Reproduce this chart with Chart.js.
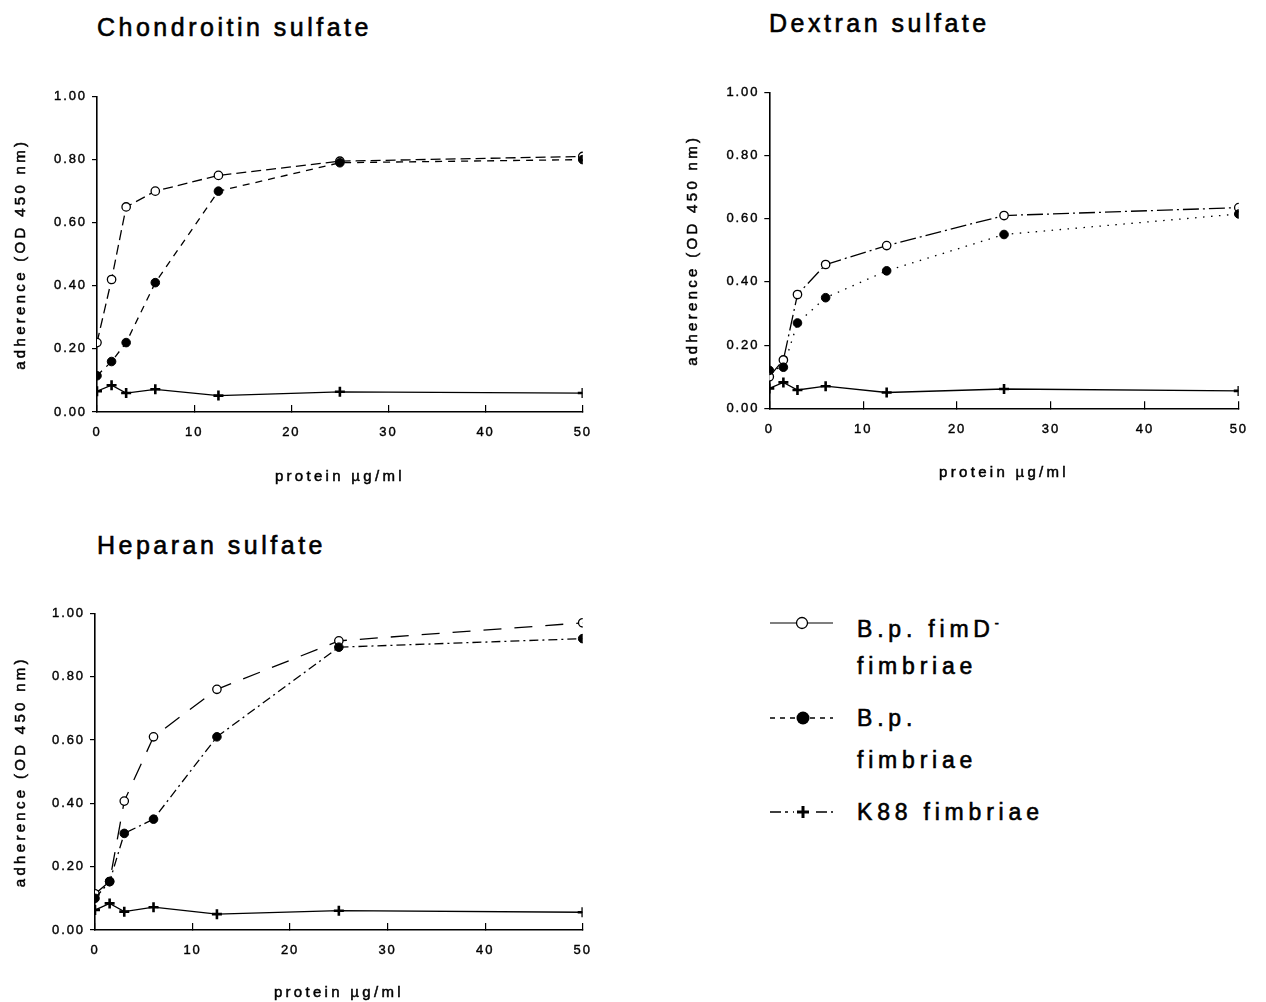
<!DOCTYPE html>
<html>
<head>
<meta charset="utf-8">
<script src="https://cdn.jsdelivr.net/npm/chart.js@4.4.1/dist/chart.umd.min.js"></script>
<style>
  body { margin: 0; background: #fff; width: 1266px; height: 1002px; position: relative; overflow: hidden; font-family: 'Liberation Sans', Arial, sans-serif; color: #000; }
  .box { position: absolute; }
  .title { position: absolute; font-size: 25px; line-height: 30px; letter-spacing: 3.5px; white-space: nowrap; -webkit-text-stroke: 0.6px #000; }
  .leg { position: absolute; left: 857px; font-size: 23px; line-height: 28px; letter-spacing: 4.8px; white-space: nowrap; -webkit-text-stroke: 0.6px #000; }
  .leg sup { font-size: 12px; vertical-align: 10px; letter-spacing: 0; }
</style>
</head>
<body>
<div class="title" style="left:97px; top:12px;">Chondroitin sulfate</div>
<div class="title" style="left:769px; top:8px;">Dextran sulfate</div>
<div class="title" style="left:97px; top:530px;">Heparan sulfate</div>

<div class="box" style="left:0px; top:60px;"><canvas id="chondChart" width="610" height="440"></canvas></div>
<div class="box" style="left:672px; top:56px;"><canvas id="dextChart" width="594" height="440"></canvas></div>
<div class="box" style="left:0px; top:577px;"><canvas id="hepChart" width="610" height="425"></canvas></div>

<svg class="box" style="left:760px; top:600px;" width="90" height="230">
  <line x1="10" y1="23" x2="73" y2="23" stroke="#000" stroke-width="1.2"/>
  <circle cx="42" cy="23" r="5.5" fill="#fff" stroke="#000" stroke-width="1.3"/>
  <line x1="10" y1="118" x2="73" y2="118" stroke="#000" stroke-width="1.3" stroke-dasharray="5,5"/>
  <circle cx="43" cy="118" r="6.5" fill="#000"/>
  <line x1="10" y1="212" x2="73" y2="212" stroke="#000" stroke-width="1.3" stroke-dasharray="11,4,3,5"/>
  <rect x="34" y="205" width="18" height="14" fill="#fff"/>
  <line x1="37" y1="212" x2="49" y2="212" stroke="#000" stroke-width="3"/>
  <line x1="43" y1="206" x2="43" y2="218" stroke="#000" stroke-width="3"/>
</svg>
<div class="leg" style="top:609px;">B.p. fimD<sup>-</sup></div>
<div class="leg" style="top:652px;">fimbriae</div>
<div class="leg" style="top:704px;">B.p.</div>
<div class="leg" style="top:746px;">fimbriae</div>
<div class="leg" style="top:798px;">K88 fimbriae</div>

<script>
// protein concentration (µg/ml)
const doses = [0, 1.5, 3, 6, 12.5, 25, 50];
const xTicks = [0, 10, 20, 30, 40, 50];
const yTicks = [0, 0.2, 0.4, 0.6, 0.8, 1.0];

// Chondroitin sulfate
const chondFimD = [0.22, 0.42, 0.65, 0.70, 0.75, 0.795, 0.81];
const chondBp = [0.115, 0.16, 0.22, 0.41, 0.70, 0.79, 0.80];
const chondK88 = [0.066, 0.085, 0.06, 0.072, 0.052, 0.064, 0.06];

// Dextran sulfate
const dextFimD = [0.10, 0.153, 0.36, 0.455, 0.515, 0.61, 0.635];
const dextBp = [0.12, 0.13, 0.27, 0.35, 0.435, 0.55, 0.615];
const dextK88 = [0.063, 0.082, 0.058, 0.07, 0.05, 0.061, 0.055];

// Heparan sulfate
const hepFimD = [0.114, 0.153, 0.407, 0.61, 0.76, 0.913, 0.97];
const hepBp = [0.10, 0.153, 0.305, 0.35, 0.61, 0.893, 0.92];
const hepK88 = [0.063, 0.084, 0.058, 0.072, 0.05, 0.061, 0.056];

const family = "'Liberation Sans', Arial, sans-serif";

// scanned figure has wide letter spacing and slightly heavy type
const spacing = {
    id: 'spacing',
    beforeDraw(chart) {
        chart.ctx.letterSpacing = '1.9px';
        Object.values(chart.scales).forEach(s => {
            if (s._spaced) return;
            const orig = s.drawTitle;
            s.drawTitle = function () {
                const c = this.ctx;
                const fill = c.fillText;
                c.letterSpacing = '3.3px';
                c.fillText = function (t, x, y, w) {
                    fill.call(c, t, x, y, w);
                    c.lineWidth = 0.5;
                    c.strokeStyle = '#000';
                    c.strokeText(t, x, y, w);
                };
                orig.call(this);
                delete c.fillText;
                c.letterSpacing = '1.9px';
            };
            s._spaced = true;
        });
    }
};

function pts(ys) {
    return doses.map((d, i) => ({x: d, y: ys[i]}));
}

function fimDSet(ys, dash) {
    return {
        label: 'B.p. fimD- fimbriae', data: pts(ys),
        borderColor: '#000', borderWidth: 1.3, borderDash: dash,
        pointStyle: 'circle', pointRadius: 4.2, pointBackgroundColor: '#fff',
        pointBorderColor: '#000', pointBorderWidth: 1.3
    };
}
function bpSet(ys, dash) {
    return {
        label: 'B.p. fimbriae', data: pts(ys),
        borderColor: '#000', borderWidth: 1.3, borderDash: dash,
        pointStyle: 'circle', pointRadius: 4.3, pointBackgroundColor: '#000',
        pointBorderColor: '#000', pointBorderWidth: 1
    };
}
function k88Set(ys) {
    return {
        label: 'K88 fimbriae', data: pts(ys),
        borderColor: '#000', borderWidth: 1.3,
        pointStyle: 'cross', pointRadius: 5, pointBorderColor: '#000',
        pointBorderWidth: 2.6
    };
}

const tickFont = {family: family, size: 13};

function makeChart(id, datasets, pad, yWidth, xHeight, xTitlePad) {
    return new Chart(document.getElementById(id).getContext('2d'), {
        type: 'line',
        data: {datasets: datasets},
        plugins: [spacing],
        options: {
            responsive: false,
            animation: false,
            devicePixelRatio: 1,
            layout: {padding: pad},
            elements: {line: {tension: 0}},
            plugins: {legend: {display: false}, tooltip: {enabled: false}},
            scales: {
                x: {
                    type: 'linear', min: 0, max: 50,
                    afterBuildTicks: (s) => { s.ticks = xTicks.map(v => ({value: v})); },
                    afterFit: (s) => { s.height = xHeight; },
                    ticks: {color: '#000', font: tickFont, padding: 20, maxRotation: 0,
                        textStrokeColor: '#000', textStrokeWidth: 0.4},
                    grid: {drawOnChartArea: false, tickLength: -7, color: '#000', lineWidth: 1.2},
                    border: {display: true, color: '#000', width: 1.6},
                    title: {display: true, text: 'protein µg/ml', color: '#000',
                        font: {family: family, size: 15}, padding: {top: 0, bottom: xTitlePad}}
                },
                y: {
                    min: 0, max: 1,
                    afterBuildTicks: (s) => { s.ticks = yTicks.map(v => ({value: v})); },
                    afterFit: (s) => { s.width = yWidth; },
                    ticks: {color: '#000', font: tickFont, padding: 5,
                        textStrokeColor: '#000', textStrokeWidth: 0.4,
                        callback: (v) => v.toFixed(2)},
                    grid: {drawOnChartArea: false, tickLength: 5, color: '#000', lineWidth: 1.2},
                    border: {display: true, color: '#000', width: 1.6},
                    title: {display: true, text: 'adherence (OD 450 nm)', color: '#000',
                        font: {family: family, size: 15}, padding: {top: 12, bottom: 0}}
                }
            }
        }
    });
}

makeChart('chondChart',
    [k88Set(chondK88), bpSet(chondBp, [7, 6]), fimDSet(chondFimD, [10, 5])],
    {left: 0, top: 36.5, right: 27, bottom: 0}, 97, 88, 14);

makeChart('dextChart',
    [k88Set(dextK88), bpSet(dextBp, [1.5, 6.5]), fimDSet(dextFimD, [16, 4, 2, 4])],
    {left: 0, top: 36.3, right: 9.3, bottom: 0}, 97.3, 87.7, 14);

makeChart('hepChart',
    [k88Set(hepK88), bpSet(hepBp, [9, 4, 2, 4]), fimDSet(hepFimD, [18, 13])],
    {left: 0, top: 36.3, right: 27.3, bottom: 0}, 95, 72, 0);
</script>
</body>
</html>
